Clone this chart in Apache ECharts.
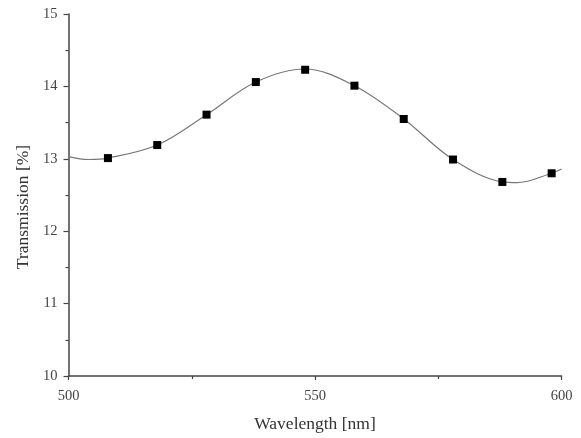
<!DOCTYPE html>
<html>
<head>
<meta charset="utf-8">
<script src="https://cdn.jsdelivr.net/npm/echarts@6/dist/echarts.min.js"></script>
<style>html,body{margin:0;padding:0;background:#fff;}#c{width:581px;height:438px;}</style>
</head>
<body>
<div id="c"></div>
<script>
var markerX = [508, 518, 528, 538, 548, 558, 568, 578, 588, 598];
var markerY = [13.01, 13.19, 13.61, 14.06, 14.23, 14.01, 13.55, 12.99, 12.68, 12.80];
var curveX = [500, 504, 508, 518, 528, 538, 548, 558, 568, 578, 588, 591, 598, 600];
var curveY = [13.03, 12.99, 13.01, 13.19, 13.61, 14.06, 14.24, 14.01, 13.55, 12.99, 12.68, 12.67, 12.80, 12.86];
var xTicks = [500, 550, 600];
var yTicks = [10, 11, 12, 13, 14, 15];

var chart = echarts.init(document.getElementById('c'), null, {renderer: 'canvas'});
var font = '"Liberation Serif", "Times New Roman", serif';
chart.setOption({
  animation: false,
  backgroundColor: '#fff',
  grid: {left: 68.5, right: 19.5, top: 14, bottom: 61.5},
  xAxis: {
    type: 'value', min: xTicks[0], max: xTicks[xTicks.length - 1], interval: 50,
    name: 'Wavelength [nm]', nameLocation: 'middle', nameGap: 39,
    nameTextStyle: {fontFamily: font, fontSize: 17.5, color: '#333'},
    axisLine: {lineStyle: {color: '#444', width: 1.5}},
    axisTick: {show: true, length: 4, lineStyle: {color: '#444', width: 1.2}},
    minorTick: {show: true, splitNumber: 2, length: 3, lineStyle: {color: '#444', width: 1.2}},
    splitLine: {show: false},
    axisLabel: {fontFamily: font, fontSize: 14.5, color: '#444', margin: 13}
  },
  yAxis: {
    type: 'value', min: yTicks[0], max: yTicks[yTicks.length - 1], interval: 1,
    name: 'Transmission [%]', nameLocation: 'middle', nameGap: 35,
    nameTextStyle: {fontFamily: font, fontSize: 17.5, color: '#333', padding: [0, 24, 0, 0]},
    axisLine: {show: true, lineStyle: {color: '#444', width: 1.5}},
    axisTick: {show: true, length: 5, lineStyle: {color: '#444', width: 1.2}},
    minorTick: {show: true, splitNumber: 2, length: 3, lineStyle: {color: '#444', width: 1.2}},
    splitLine: {show: false},
    axisLabel: {fontFamily: font, fontSize: 14.5, color: '#444', margin: 11}
  },
  series: [
    {
      type: 'line', smooth: 0.35, showSymbol: false, silent: true, z: 2,
      data: curveX.map(function (x, i) { return [x, curveY[i]]; }),
      lineStyle: {color: '#777', width: 1.2}
    },
    {
      type: 'scatter', symbol: 'rect', symbolSize: 8, z: 5,
      data: markerX.map(function (x, i) { return [x, markerY[i]]; }),
      itemStyle: {color: '#000', opacity: 1}
    }
  ]
});
</script>
</body>
</html>
